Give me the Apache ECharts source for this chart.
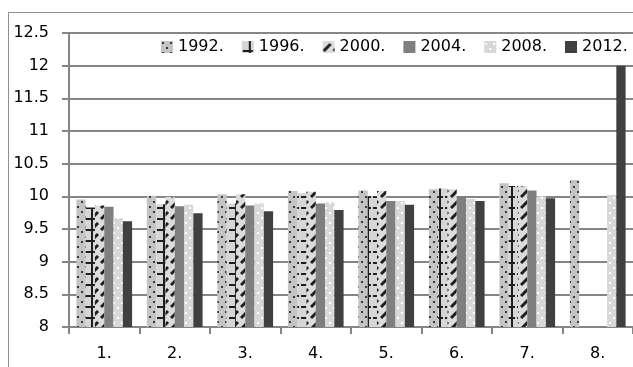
<!DOCTYPE html>
<html>
<head>
<meta charset="utf-8">
<script src="https://cdn.jsdelivr.net/npm/echarts@6/dist/echarts.min.js"></script>
<style>
  html, body { margin: 0; padding: 0; background: #fff; }
  #chart { width: 633px; height: 367px; }
</style>
</head>
<body>
<div id="chart"></div>
<script>
// Categories and tick labels
const categories = ['1.', '2.', '3.', '4.', '5.', '6.', '7.', '8.'];
const seriesNames = ['1992.', '1996.', '2000.', '2004.', '2008.', '2012.'];

// Series values per year
const v1992 = [9.95, 10.01, 10.03, 10.08, 10.09, 10.11, 10.20, 10.25];
const v1996 = [9.83, 9.88, 9.89, 10.05, 10.00, 10.12, 10.16, null];
const v2000 = [9.86, 9.99, 10.03, 10.07, 10.08, 10.11, 10.16, null];
const v2004 = [9.84, 9.85, 9.86, 9.89, 9.93, 10.00, 10.09, null];
const v2008 = [9.67, 9.87, 9.89, 9.91, 9.93, 9.96, 10.00, 10.02];
const v2012 = [9.62, 9.74, 9.77, 9.79, 9.87, 9.93, 9.97, 12.00];

// Y axis scale
const yMin = 8, yMax = 12.5, yStep = 0.5;

// Small tiled fills for the hatched bars
function tile(w, h, draw) {
  const c = document.createElement('canvas');
  c.width = w; c.height = h;
  const ctx = c.getContext('2d');
  draw(ctx, w, h);
  return { image: c, repeat: 'repeat' };
}

const fillDots = tile(8, 10, (ctx, w, h) => {
  ctx.fillStyle = '#c4c4c4'; ctx.fillRect(0, 0, w, h);
  ctx.fillStyle = '#3a3a3a';
  ctx.fillRect(1, 1, 2, 2);
  ctx.fillRect(5, 6, 2, 2);
});

const fillCross = tile(12, 11, (ctx, w, h) => {
  ctx.fillStyle = '#d6d6d6'; ctx.fillRect(0, 0, w, h);
  ctx.fillStyle = '#1e1e1e';
  ctx.fillRect(7, 0, 2, h);
  ctx.fillRect(1, 9, 10, 2);
});

const fillDiag = tile(10, 11, (ctx, w, h) => {
  ctx.fillStyle = '#dcdcdc'; ctx.fillRect(0, 0, w, h);
  ctx.strokeStyle = '#1e1e1e';
  ctx.lineWidth = 3;
  ctx.beginPath();
  ctx.moveTo(1, 10);
  ctx.lineTo(8, 3);
  ctx.stroke();
});

const fillLightDots = tile(8, 10, (ctx, w, h) => {
  ctx.fillStyle = '#d8d8d8'; ctx.fillRect(0, 0, w, h);
  ctx.fillStyle = '#ffffff';
  ctx.fillRect(1, 2, 2, 2);
  ctx.fillRect(5, 7, 2, 2);
});

const fills = [fillDots, fillCross, fillDiag, '#7f7f7f', fillLightDots, '#404040'];
const values = [v1992, v1996, v2000, v2004, v2008, v2012];

const font = 'DejaVu Sans';
const gridColor = '#858585';

const chart = echarts.init(document.getElementById('chart'), null, { renderer: 'canvas' });

chart.setOption({
  animation: false,
  backgroundColor: '#ffffff',
  textStyle: { fontFamily: font },
  graphic: [{
    type: 'rect',
    silent: true,
    z: 0,
    shape: { x: 8.5, y: 12.5, width: 700, height: 500 },
    style: { fill: 'none', stroke: '#8f8f8f', lineWidth: 1 }
  }],
  legend: {
    left: 161,
    top: 39,
    width: 520,
    padding: 0,
    itemWidth: 12,
    itemHeight: 12,
    itemGap: 18,
    icon: 'rect',
    textStyle: { fontFamily: font, fontSize: 16, color: '#000' },
    data: seriesNames
  },
  grid: {
    left: 69,
    top: 33,
    width: 569,
    bottom: 40,
    containLabel: false
  },
  xAxis: {
    type: 'category',
    data: categories,
    axisLine: { lineStyle: { color: gridColor, width: 2 } },
    axisTick: { show: true, alignWithLabel: false, length: 7, lineStyle: { color: gridColor, width: 2 } },
    axisLabel: { fontFamily: font, fontSize: 16, color: '#000', margin: 19 },
    splitLine: { show: false }
  },
  yAxis: {
    type: 'value',
    min: yMin,
    max: yMax,
    interval: yStep,
    axisLine: { show: true, lineStyle: { color: gridColor, width: 2 } },
    axisTick: { show: true, length: 7, lineStyle: { color: gridColor, width: 2 } },
    axisLabel: { fontFamily: font, fontSize: 16, color: '#000', margin: 20 },
    splitLine: { show: true, lineStyle: { color: gridColor, width: 2 } }
  },
  series: seriesNames.map((name, i) => ({
    name: name,
    type: 'bar',
    data: values[i],
    barGap: '0%',
    barCategoryGap: '21%',
    itemStyle: { color: fills[i] }
  }))
});
</script>
</body>
</html>
